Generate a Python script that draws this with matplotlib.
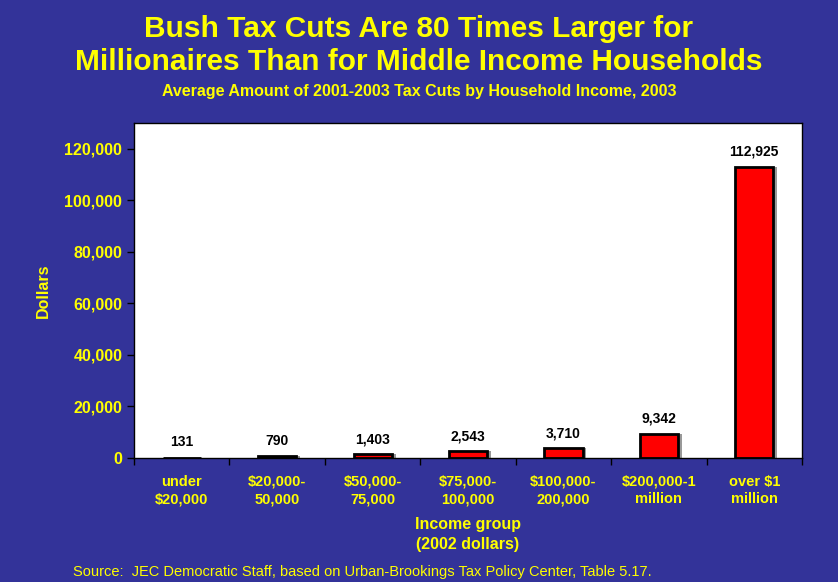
import matplotlib.pyplot as plt
from matplotlib.ticker import FuncFormatter

# ---- Data ----
groups = ["under\n$20,000", "$20,000-\n50,000", "$50,000-\n75,000", "$75,000-\n100,000",
          "$100,000-\n200,000", "$200,000-1\nmillion", "over $1\nmillion"]
tax_cut = [131, 790, 1403, 2543, 3710, 9342, 112925]

BLUE = "#333399"
YELLOW = "#FFFF00"

plt.rcParams["font.family"] = ["Liberation Sans", "DejaVu Sans"]

fig = plt.figure(figsize=(8.38, 5.82), dpi=100, facecolor=BLUE)
ax = fig.add_axes([0.160, 0.213, 0.797, 0.576])
ax.set_facecolor("white")

x = range(len(groups))
# soft shadow behind bars
ax.bar([i + 0.04 for i in x], tax_cut, width=0.4, color="#999999", zorder=1)
ax.bar(x, tax_cut, width=0.4, color="#FF0000", edgecolor="black", linewidth=2, zorder=2)

for i, v in zip(x, tax_cut):
    ax.annotate(f"{v:,}", (i, v), xytext=(0, 6), textcoords="offset points",
                ha="center", va="bottom", fontsize=10, fontweight="bold", color="black")

ax.set_xlim(-0.5, len(groups) - 0.5)
ax.set_ylim(0, 130000)
ax.set_yticks(range(0, 120001, 20000))
ax.yaxis.set_major_formatter(FuncFormatter(lambda v, p: f"{int(v):,}"))
ax.tick_params(axis="y", colors="black", labelcolor=YELLOW, labelsize=11.5, length=5, width=1)
for lab in ax.get_yticklabels():
    lab.set_fontweight("bold")

ax.set_xticks([i - 0.5 for i in range(len(groups) + 1)])
ax.set_xticklabels([])
ax.set_xticks(list(x), minor=True)
ax.set_xticklabels(groups, minor=True)
ax.tick_params(axis="x", which="major", length=5, width=1, colors="black")
ax.tick_params(axis="x", which="minor", length=0, labelcolor=YELLOW, labelsize=10.5, pad=12)
for lab in ax.get_xticklabels(minor=True):
    lab.set_fontweight("bold")
    lab.set_linespacing(1.3)

for s in ax.spines.values():
    s.set_color("black")
    s.set_linewidth(1)

ax.set_ylabel("Dollars", color=YELLOW, fontsize=11.5, fontweight="bold", labelpad=10)
ax.set_xlabel("Income group\n(2002 dollars)", color=YELLOW, fontsize=11.5, fontweight="bold",
              labelpad=8, linespacing=1.4)

fig.text(0.5, 0.975, "Bush Tax Cuts Are 80 Times Larger for\nMillionaires Than for Middle Income Households",
         ha="center", va="top", color=YELLOW, fontsize=21.5, fontweight="bold", linespacing=1.25)
fig.text(0.5, 0.843, "Average Amount of 2001-2003 Tax Cuts by Household Income, 2003",
         ha="center", va="center", color=YELLOW, fontsize=11.5, fontweight="bold")
fig.text(0.087, 0.017, "Source:  JEC Democratic Staff, based on Urban-Brookings Tax Policy Center, Table 5.17.",
         ha="left", va="center", color=YELLOW, fontsize=10.5)

fig.savefig("out.png", dpi=100, facecolor=BLUE)
